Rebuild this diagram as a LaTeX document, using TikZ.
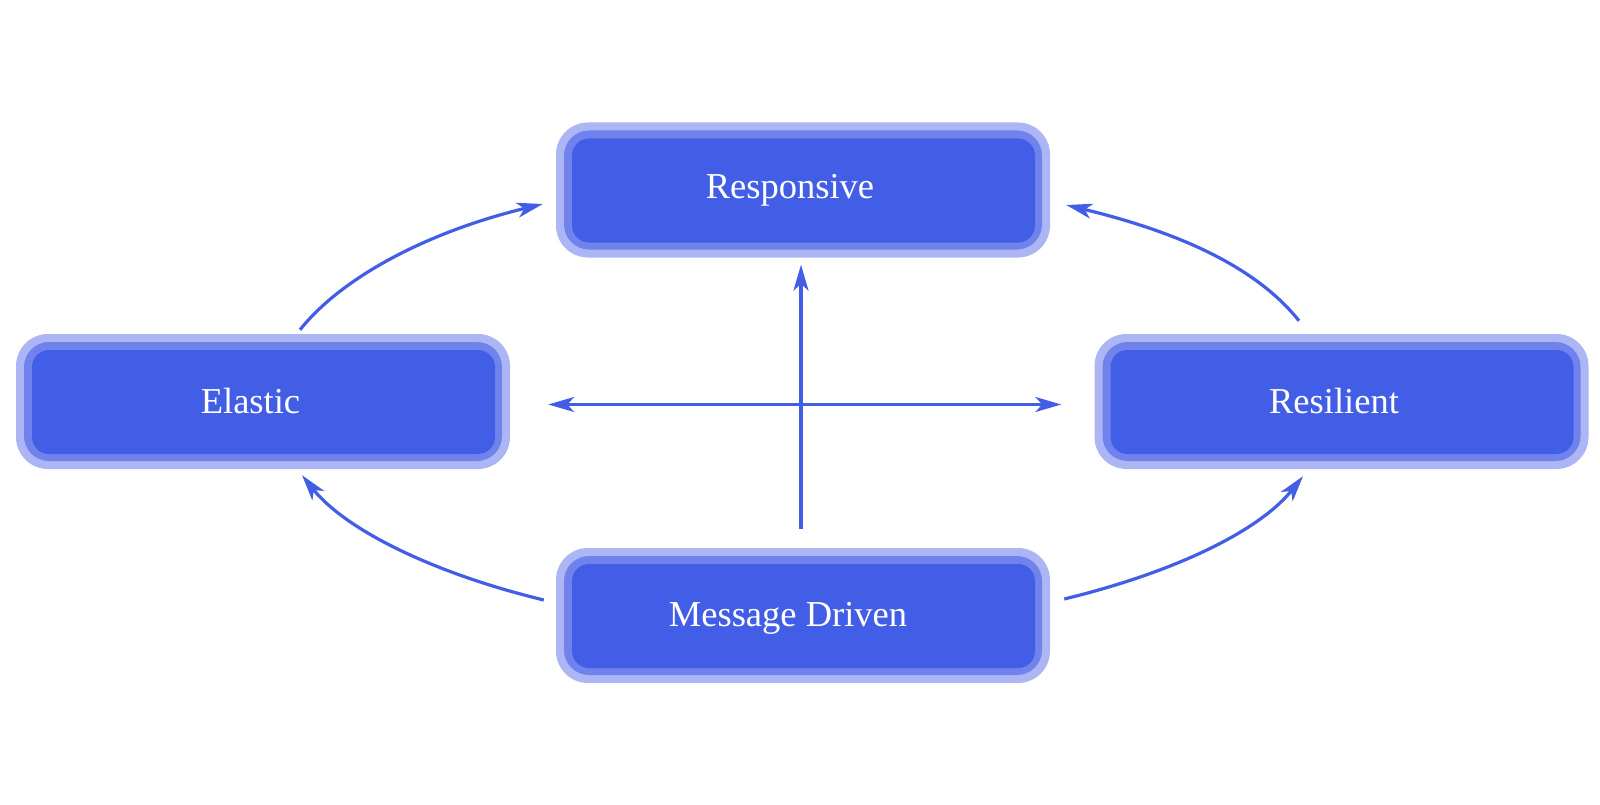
\documentclass[tikz,border=0pt]{standalone}
\usepackage{fontspec}
\setmainfont{Liberation Serif}
\usetikzlibrary{arrows.meta,calc}
\definecolor{boxfill}{RGB}{67,94,230}
\definecolor{ringmid}{RGB}{112,130,236}
\definecolor{ringout}{RGB}{172,182,244}
\begin{document}
\begin{tikzpicture}[x=1pt,y=-1pt,
  box/.style={rounded corners=32pt, fill=ringout, minimum width=494pt, minimum height=135pt,
    inner sep=0pt, text=white, font=\fontsize{36.5}{40}\selectfont,
    path picture={
      \fill[ringmid, rounded corners=25pt]
        ([shift={(8pt,-8pt)}]path picture bounding box.north west) rectangle
        ([shift={(-8pt,8pt)}]path picture bounding box.south east);
      \fill[boxfill, rounded corners=17pt]
        ([shift={(16pt,-16pt)}]path picture bounding box.north west) rectangle
        ([shift={(-15pt,15pt)}]path picture bounding box.south east);
    }},
  conn/.style={draw=boxfill, line width=3.2pt, -{Stealth[length=26pt,width=15pt,inset=7pt]}},
  dconn/.style={draw=boxfill, line width=3.2pt, {Stealth[length=26pt,width=15pt,inset=7pt]}-{Stealth[length=26pt,width=15pt,inset=7pt]}}
]
\useasboundingbox (0,0) rectangle (1600,805);
\fill[white] (0,0) rectangle (1600,805);

\node[box] (R) at (803,190) {\hspace*{-26pt}\raisebox{0pt}[28pt][12pt]{Responsive}};
\node[box] (E) at (263,401.5) {\hspace*{-25pt}\raisebox{-4pt}[28pt][12pt]{Elastic}};
\node[box] (S) at (1341.5,401.5) {\hspace*{-15pt}\raisebox{-4pt}[28pt][12pt]{Resilient}};
\node[box] (M) at (803,615.5) {\hspace*{-30pt}\raisebox{-3pt}[28pt][12pt]{Message Driven}};

% curved connectors
\draw[conn] ($(E.north)+(37,-4)$) .. controls +(42.5,-53.4) and +(-113.8,27.6) .. ($(R.west)+(-13,14)$);
\draw[conn] ($(S.north)+(-42.5,-13)$) .. controls +(-42.5,-53.4) and +(113.8,27.6) .. ($(R.east)+(16,15)$);
\draw[conn] ($(M.west)+(-12,-15.5)$) .. controls +(-113.8,-27.6) and +(42.5,53.4) .. ($(E.south)+(39,6)$);
\draw[conn] ($(M.east)+(14,-16.5)$) .. controls +(113.8,-27.6) and +(-42.5,53.4) .. ($(S.south)+(-38.5,7)$);

% straight connectors
\draw[conn] ($(M.north)+(-2,-19)$) -- ($(R.south)+(-2,7)$);
\draw[dconn] ($(E.east)+(38,3)$) -- ($(S.west)+(-33,3)$);
\end{tikzpicture}
\end{document}
